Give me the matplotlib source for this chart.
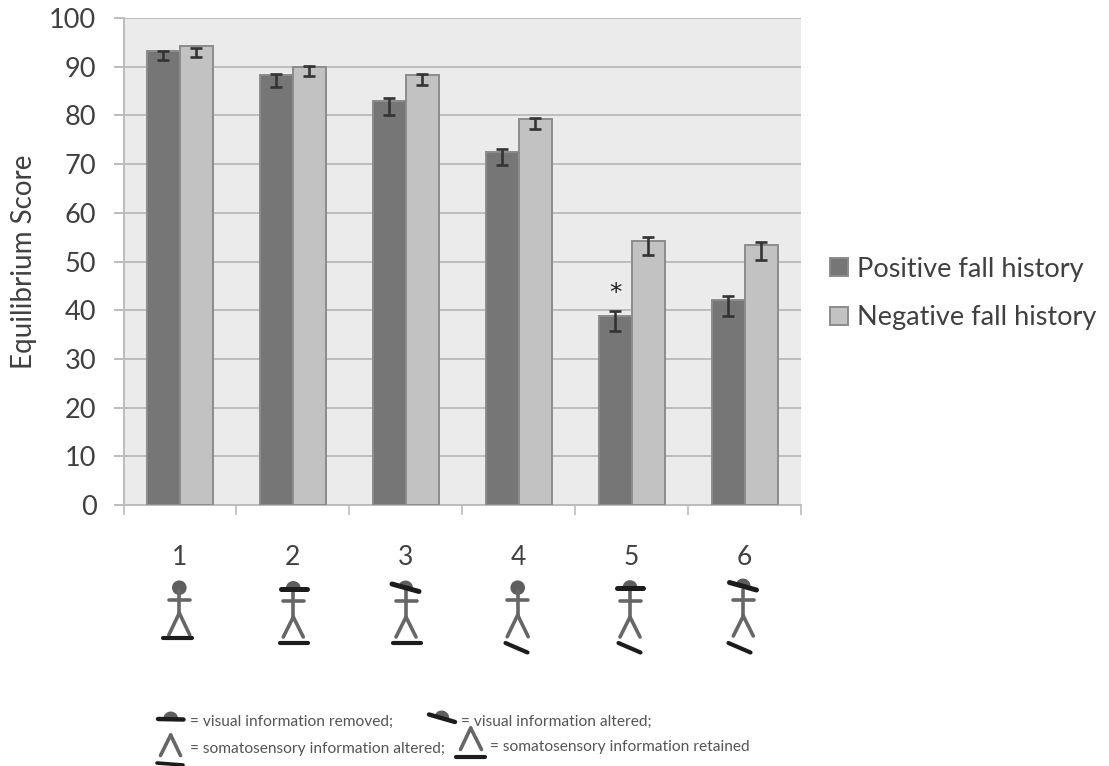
import numpy as np
import matplotlib
matplotlib.use('Agg')
import matplotlib.pyplot as plt
from matplotlib.patches import Circle, Wedge

plt.rcParams['font.family'] = ['Lato', 'DejaVu Sans']

trials = [1, 2, 3, 4, 5, 6]
positive = [93.3, 88.3, 82.9, 72.5, 38.9, 42.0]
negative = [94.2, 90.0, 88.3, 79.2, 54.3, 53.3]

# error bars are not centred on the bar tops in the original
pos_top = [93.3, 88.5, 83.6, 73.2, 39.9, 43.0]
pos_low = [91.4, 85.8, 80.0, 69.8, 35.7, 38.8]
neg_top = [93.9, 90.1, 88.5, 79.4, 55.1, 54.1]
neg_low = [92.0, 88.1, 86.2, 77.2, 51.3, 50.3]

yticks = [0, 10, 20, 30, 40, 50, 60, 70, 80, 90, 100]
labels = ['Positive fall history', 'Negative fall history']

TEXT = '#404040'
DARK = '#767676'
LIGHT = '#c2c2c2'
EDGE = '#8c8c8c'
GRID = '#bcbcbc'
W, H = 1109, 766

fig = plt.figure(figsize=(W / 100, H / 100), dpi=100)
ax = fig.add_axes([123.5 / W, 1 - 505 / H, (801 - 123.5) / W, (505 - 18) / H])

x = np.array(trials)
bw = 0.292
b1 = ax.bar(x - bw / 2, positive, bw, color=DARK, edgecolor=EDGE, linewidth=1.4, label=labels[0], zorder=3)
b2 = ax.bar(x + bw / 2, negative, bw, color=LIGHT, edgecolor=EDGE, linewidth=1.4, label=labels[1], zorder=3)


def whiskers(xs, top, low):
    # the caps can sit below the bar top, so go via a midpoint
    mid = (np.array(top) + np.array(low)) / 2
    half = (np.array(top) - np.array(low)) / 2
    ax.errorbar(xs, mid, yerr=half, fmt='none', ecolor='#333333', elinewidth=1.9,
                capsize=4.2, capthick=1.9, zorder=4)


whiskers(x - bw / 2, pos_top, pos_low)
whiskers(x + bw / 2, neg_top, neg_low)

ax.text(5 - bw / 2, 43.6, '*', ha='center', va='center', fontsize=18, color='#222222',
        family='DejaVu Sans', zorder=5)

ax.set_xlim(0.5, 6.5)
ax.set_ylim(0, 100)
ax.set_facecolor('#ebebeb')
ax.set_yticks(yticks)
ax.set_yticklabels([str(v) for v in yticks])
ax.yaxis.grid(True, color=GRID, linewidth=1.4, zorder=1)
ax.set_axisbelow(True)

ax.set_xticks(np.arange(0.5, 7, 1))
ax.set_xticklabels([])
ax.set_xticks(x, minor=True)
ax.set_xticklabels([str(t) for t in trials], minor=True)
ax.tick_params(axis='x', which='minor', length=0, pad=28.7, labelsize=19, labelcolor=TEXT)
ax.tick_params(axis='x', which='major', length=7, width=1.2, color=GRID)
ax.tick_params(axis='y', length=7, width=1.4, color=GRID, labelsize=19.5, labelcolor=TEXT, pad=12.5)

for s in ['top', 'right']:
    ax.spines[s].set_visible(False)
for s in ['left', 'bottom']:
    ax.spines[s].set_color(GRID)
    ax.spines[s].set_linewidth(1.4)

fig.text(24 / W, 1 - 262 / H, 'Equilibrium Score', rotation=90, ha='center', va='center',
         fontsize=20, color=TEXT)

fig.legend(handles=[b1, b2], loc='center left', bbox_to_anchor=(806 / W, 1 - 293.5 / H),
           frameon=False, fontsize=19.5, handlelength=0.667, handleheight=0.667,
           handletextpad=0.31, labelspacing=0.88, labelcolor=TEXT)

# overlay in pixel coordinates for the stick figures
ov = fig.add_axes([0, 0, 1, 1], facecolor='none')
ov.set_xlim(0, W)
ov.set_ylim(H, 0)
ov.axis('off')

FIG = '#666666'
BLK = '#1c1c1c'
HEAD = '#5e5e5e'


def seg(x0, y0, x1, y1, c=FIG, lw=2.6):
    ov.plot([x0, x1], [y0, y1], color=c, lw=lw, solid_capstyle='round')


def dome(cx, cy, tilt=0):
    # y axis is flipped here, so the upper half is 180-360
    ov.add_patch(Wedge((cx, cy), 7.5, 180 + tilt, 360 + tilt, color=HEAD, lw=0))


def person(cx, arm_y, hip_y, foot_y, wide, neck_y):
    seg(cx - 10.5, arm_y, cx + 10.5, arm_y)
    seg(cx, neck_y, cx, hip_y)
    seg(cx, hip_y, cx - wide, foot_y)
    seg(cx, hip_y, cx + wide, foot_y)


person(179.3, 600, 613, 635, 10.5, 590)
ov.add_patch(Circle((179.3, 587.7), 7.3, color=HEAD, lw=0))
seg(163, 637.7, 191.5, 637.7, BLK, 3)

person(293.3, 601, 617, 637, 10, 590)
dome(293.3, 588.5)
seg(281, 588.5, 306.5, 588.5, BLK, 3.6)
seg(279.5, 642.7, 307.5, 642.7, BLK, 3)

person(406, 601, 617, 637, 10, 590)
dome(405.5, 588, 15)
seg(392, 584, 419, 591.5, BLK, 3.6)
seg(393, 642.7, 421, 642.7, BLK, 3)

person(517.7, 600, 615, 636.7, 10.5, 590)
ov.add_patch(Circle((517.7, 587.7), 7.3, color=HEAD, lw=0))
seg(505.5, 643, 527.5, 652.5, BLK, 3)

person(630, 601, 617, 637, 10, 590)
dome(630, 587.7)
seg(616.5, 587.7, 642.5, 587.7, BLK, 3.6)
seg(618.5, 643, 640.5, 652.5, BLK, 3)

person(743.3, 600, 616, 636, 10, 590)
dome(743, 586, 15)
seg(729.5, 582.5, 756.5, 590, BLK, 3.6)
seg(728.5, 643, 750.5, 652.5, BLK, 3)

# key below the chart
dome(170.7, 719)
seg(158, 719, 183.5, 719.5, BLK, 3.2)
dome(441.7, 718, 15)
seg(429, 714.5, 455, 722, BLK, 3.2)

seg(170.7, 735, 160.5, 755.5)
seg(170.7, 735, 180.5, 755.5)
seg(157, 763, 183, 765, BLK, 2.6)

seg(470.7, 728, 460.5, 749.5)
seg(470.7, 728, 481.5, 749.5)
seg(455.5, 757.3, 484.5, 757.3, BLK, 3)

key = dict(fontsize=11.2, color='#555555', ha='left', va='center')
ov.text(190, 721.5, '= visual information removed;', **key)
ov.text(460.7, 721.5, '= visual information altered;', **key)
ov.text(190, 749, '= somatosensory information altered;', **key)
ov.text(490, 746.5, '= somatosensory information retained', **key)

fig.savefig('out.png', dpi=100)
